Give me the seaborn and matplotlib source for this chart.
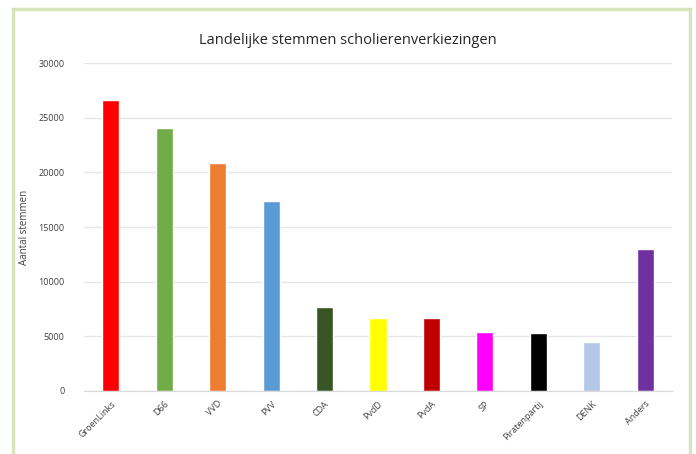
import matplotlib
matplotlib.use("Agg")
import matplotlib.pyplot as plt
import seaborn as sns
import pandas as pd
from matplotlib.patches import Rectangle

# Data
partijen = ['GroenLinks', 'D66', 'VVD', 'PVV', 'CDA', 'PvdD', 'PvdA', 'SP',
            'Piratenpartij', 'DENK', 'Anders']
stemmen = [26600, 24050, 20850, 17350, 7700, 6700, 6650, 5400, 5300, 4450, 13000]
kleuren = ['#ff0000', '#70ad47', '#ed7d31', '#5b9bd5', '#375623', '#ffff00',
           '#c00000', '#ff00ff', '#000000', '#b4c7e7', '#7030a0']

df = pd.DataFrame({'partij': partijen, 'stemmen': stemmen})

sns.set_style('white')
plt.rcParams['font.family'] = ['Open Sans', 'DejaVu Sans']

fig = plt.figure(figsize=(6.96, 4.54), dpi=100)
fig.patch.set_facecolor('white')
# light green frame around the chart (bottom edge runs off the image)
fig.patches.append(Rectangle((13 / 696, -10 / 454), 677 / 696, 455 / 454,
                             transform=fig.transFigure, fill=False,
                             edgecolor='#d8e4bc', linewidth=2.5))

ax = fig.add_axes([84 / 696, 63 / 454, 588 / 696, 328 / 454])
sns.barplot(data=df, x='partij', y='stemmen', hue='partij', palette=kleuren,
            width=0.32, legend=False, ax=ax, saturation=1)

ax.set_ylim(0, 30000)
ax.set_xlim(-0.5, 10.5)
ax.set_yticks(range(0, 30001, 5000))
ax.yaxis.grid(True, color='#e6e6e6', linewidth=1)
ax.set_axisbelow(True)
for s in ['top', 'right', 'left']:
    ax.spines[s].set_visible(False)
ax.spines['bottom'].set_color('#d9d9d9')
ax.tick_params(axis='both', length=0, labelsize=6.5, labelcolor='#404040')
ax.tick_params(axis='y', pad=14)
ax.tick_params(axis='x', pad=6)
plt.setp(ax.get_xticklabels(), rotation=45, ha='right', rotation_mode='anchor')
ax.set_xlabel('')
ax.set_ylabel('Aantal stemmen', fontsize=7, color='#404040', labelpad=6)

fig.text(0.5, 1 - 40 / 454, 'Landelijke stemmen scholierenverkiezingen',
         ha='center', va='center', fontsize=10.5, color='#262626')

fig.savefig('out.png', dpi=100)
